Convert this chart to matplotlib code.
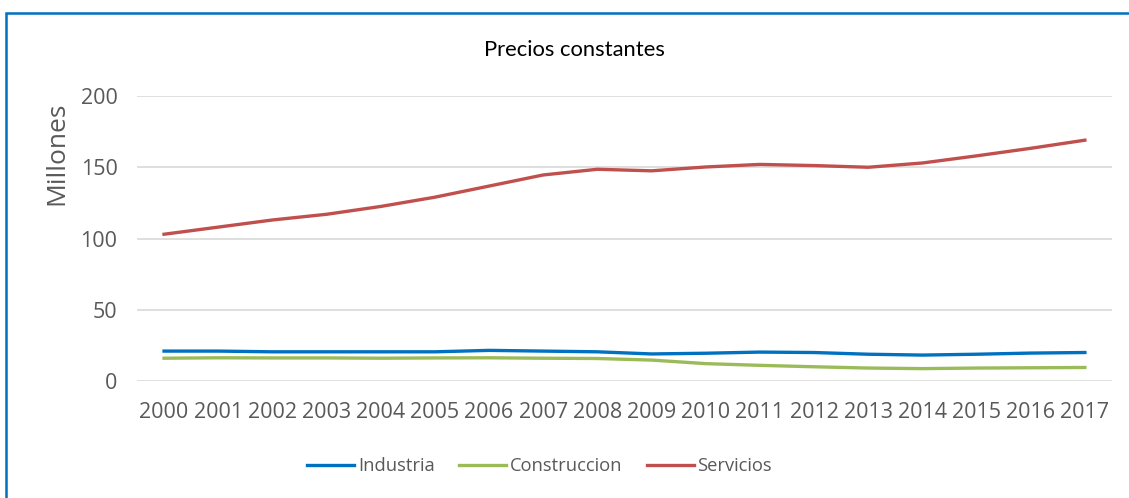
import matplotlib.pyplot as plt
from matplotlib.patches import Rectangle

years = [str(y) for y in range(2000, 2018)]
industria = [21.0, 21.0, 20.5, 20.5, 20.5, 20.5, 21.5, 21.0, 20.5, 19.0,
             19.5, 20.3, 20.0, 18.8, 18.2, 18.8, 19.6, 20.0]
construccion = [16.0, 16.3, 16.2, 16.2, 16.0, 16.2, 16.3, 16.0, 15.8, 14.7,
                12.2, 11.0, 10.0, 9.1, 8.7, 9.1, 9.3, 9.5]
servicios = [103.0, 108.0, 113.0, 117.0, 122.5, 129.0, 136.8, 144.6, 148.6, 147.5,
             150.2, 152.0, 151.2, 150.0, 153.0, 158.0, 163.3, 169.0]

plt.rcParams['font.family'] = ['Open Sans', 'DejaVu Sans']

fig = plt.figure(figsize=(11.29, 4.98), dpi=100)
ax = fig.add_axes([0.1213, 0.2349, 0.8636, 0.5723])

x = list(range(len(years)))
ax.plot(x, industria, color='#0070C0', lw=2.4, label='Industria')
ax.plot(x, construccion, color='#9BBB59', lw=2.4, label='Construccion')
ax.plot(x, servicios, color='#C0504D', lw=2.4, label='Servicios')

ax.set_xlim(-0.5, len(years) - 0.5)
ax.set_ylim(0, 200)
ax.set_yticks([0, 50, 100, 150, 200])
ax.set_xticks(x)
ax.set_xticklabels(years)
ax.grid(axis='y', color='#D9D9D9', lw=1.2)
ax.set_axisbelow(True)
for s in ax.spines.values():
    s.set_visible(False)
ax.tick_params(length=0, labelsize=15.5, colors='#595959')
ax.tick_params(axis='y', pad=14)
ax.tick_params(axis='x', pad=15)

# axis title sits high on the left, as in the original
fig.text(57 / 1129, 1 - 153 / 498, 'Millones', rotation=90, ha='center',
         va='center', fontsize=19, color='#595959')

fig.text(0.509, 0.9, 'Precios constantes', ha='center', va='center',
         fontsize=15.8, family='Lato', color='black')

fig.legend(loc='center', bbox_to_anchor=(0.478, 0.064), ncol=3, frameon=False,
           fontsize=13.2, labelcolor='#595959', handlelength=2.55,
           handletextpad=0.2, columnspacing=1.35)

fig.patches.append(Rectangle((6 / 1129, -0.1), 1.2, 1 - 13 / 498 + 0.1,
                             transform=fig.transFigure, fill=False,
                             edgecolor='#0070C0', lw=1.8))

fig.savefig('out.png', dpi=100)
